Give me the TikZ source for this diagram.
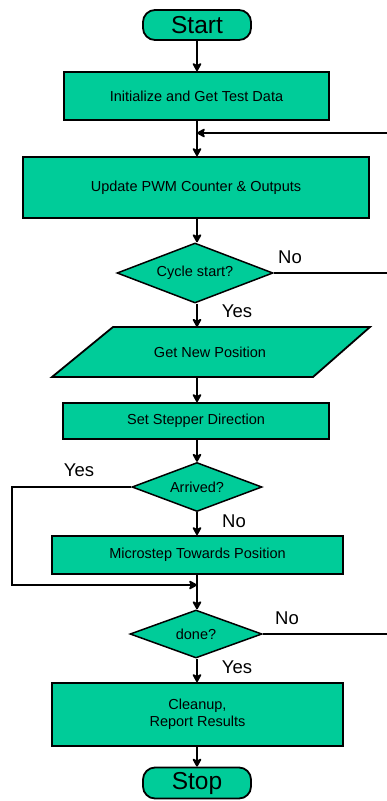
\documentclass[tikz,border=0pt]{standalone}
\usepackage{fontspec}
\setmainfont{Liberation Sans}
\usetikzlibrary{shapes.geometric,arrows.meta,calc}
\definecolor{flowfill}{RGB}{0,204,153}
\begin{document}
\begin{tikzpicture}[x=1pt,y=-1pt,
  every node/.style={font=\fontsize{14.5}{17}\selectfont},
  procbox/.style={draw=black, line width=1.8pt, fill=flowfill, rectangle, inner sep=0pt, align=center},
  termbox/.style={draw=black, line width=1.8pt, fill=flowfill, rectangle, rounded corners=12pt, inner sep=0pt,
    font=\fontsize{24.5}{26}\selectfont},
  decbox/.style={draw=black, line width=1.5pt, fill=flowfill, diamond, aspect=2.7, inner sep=0pt},
  tip/.style={-{Stealth[length=10pt,width=11pt,inset=3pt,round]}},
  flow/.style={line width=1.7pt, tip},
  loopline/.style={line width=2.4pt},
  lbl/.style={font=\fontsize{18.5}{20}\selectfont, inner sep=0pt}
]
\useasboundingbox (0,0) rectangle (387,801);

% process steps
\node[termbox, minimum width=108pt, minimum height=30pt] (start) at (197,25) {Start};
\node[procbox, minimum width=265pt, minimum height=48pt] (init) at (196.5,96) {Initialize and Get Test Data};
\node[procbox, minimum width=346pt, minimum height=61pt] (upd) at (196,187.5) {Update PWM Counter \& Outputs};
\node[decbox, minimum width=156pt, minimum height=60pt] (cyc) at (195,273) {Cycle start?};

% input/output step (parallelogram)
\path[draw=black, line width=1.8pt, fill=flowfill] (113,327) -- (370,327) -- (313,377) -- (52,377) -- cycle;
\node[minimum width=200pt, minimum height=50pt, inner sep=0pt] (par) at (197,352) {};
\node at (210,352.5) {Get New Position};

\node[procbox, minimum width=266pt, minimum height=36pt] (set) at (196,421) {Set Stepper Direction};
\node[decbox, minimum width=130pt, minimum height=49pt] (arr) at (197,487) {Arrived?};
\node[procbox, minimum width=291pt, minimum height=38pt] (micro) at (197.5,555) {Microstep Towards Position};
\node[decbox, minimum width=132pt, minimum height=48pt] (done) at (196,634) {done?};
\node[procbox, minimum width=291pt, minimum height=63pt] (clean) at (197.5,714.5) {Cleanup,\\Report Results};
\node[termbox, minimum width=108pt, minimum height=31pt] (stop) at (197,783) {Stop};

% joins and free ends
\coordinate (j1) at (197,133);
\coordinate (j2) at (197,585);
\coordinate (loopin) at (387,133);
\coordinate (cycout) at (387,273);
\coordinate (doneout) at (387,634);
\coordinate (leftrail) at (12,487);

% main flow
\draw[flow] (start.south) -- (init.north -| start.south);
\draw[line width=1.7pt] (init.south -| j1) -- (j1);
\draw[flow] (j1) -- (upd.north -| j1);
\draw[flow] (upd.south -| j1) -- (cyc.north -| j1);
\draw[flow] (cyc.south -| j1) -- (par.north -| j1);
\draw[flow] (par.south -| j1) -- (set.north -| j1);
\draw[flow] (set.south -| j1) -- (arr.north -| j1);
\draw[flow] (arr.south -| j1) -- (micro.north -| j1);
\draw[line width=1.7pt] (micro.south -| j2) -- (j2);
\draw[flow] (j2) -- (done.north -| j2);
\draw[flow] (done.south -| j2) -- (clean.north -| j2);
\draw[flow] (clean.south -| j2) -- (stop.north -| j2);

% branches and loops
\draw[loopline, tip] (loopin) -- (j1);
\draw[line width=2pt] (cyc.east) -- (cycout);
\draw[loopline] (arr.west) -- (leftrail) -- (leftrail |- j2) -- ($(j2)+(-2,0)$);
\draw[line width=2pt, tip] ($(j2)+(-14,0)$) -- (j2);
\draw[line width=1.3pt] (done.east) -- (doneout);

% branch labels
\node[lbl] (cycno) at (290,257) {No};
\node[lbl] (cycyes) at (237,311) {Yes};
\node[lbl] (arryes) at (79,470) {Yes};
\node[lbl] (arrno) at (234,521) {No};
\node[lbl] (doneno) at (287,618) {No};
\node[lbl] (doneyes) at (237,667) {Yes};
\end{tikzpicture}
\end{document}
